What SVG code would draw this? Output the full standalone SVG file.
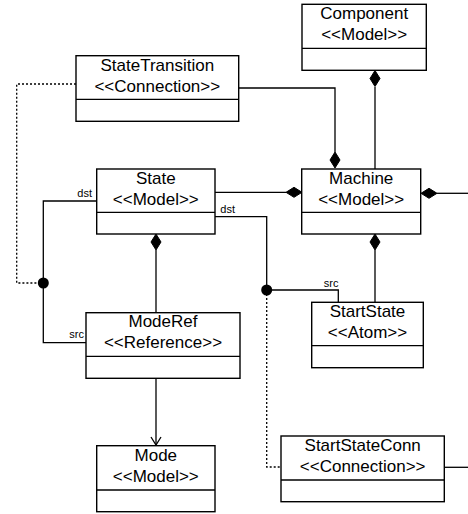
<svg xmlns="http://www.w3.org/2000/svg" width="468" height="514" viewBox="0 0 468 514">
<style>
.box{fill:#fff;stroke:#000;stroke-width:1.4}
.t{font-family:"Liberation Sans",Arial,sans-serif;font-size:17px;text-anchor:middle;fill:#000}
.s{font-family:"Liberation Sans",Arial,sans-serif;font-size:11px;text-anchor:end;fill:#000}
.ln{fill:none;stroke:#000;stroke-width:1.3}
.dot{fill:none;stroke:#000;stroke-width:1.3;stroke-dasharray:2,2}
.dia{fill:#000;stroke:#000;stroke-width:1}
</style>
<rect width="468" height="514" fill="#fff"/>
<g id="connectors">
<polyline class="ln" points="238.7,88 335,88 335,152"/>
<line class="ln" x1="375" y1="87" x2="375" y2="169"/>
<line class="ln" x1="215" y1="192.3" x2="286" y2="192.3"/>
<line class="ln" x1="437" y1="193.3" x2="468" y2="193.3"/>
<line class="ln" x1="156" y1="250" x2="156" y2="312.7"/>
<line class="ln" x1="375" y1="250" x2="375" y2="302.3"/>
<polyline class="ln" points="96.7,201 43.3,201 43.3,342.7 86,342.7"/>
<polyline class="dot" points="76,84 16.7,84 16.7,283 43.3,283"/>
<polyline class="ln" points="215,216.7 266.7,216.7 266.7,290 338.3,290 338.3,302.3"/>
<polyline class="dot" points="266.7,290 266.7,467 281,467"/>
<line class="ln" x1="444.3" y1="467.3" x2="468" y2="467.3"/>
<line class="ln" x1="156" y1="378.3" x2="156" y2="445"/>
<polyline class="ln" points="151,437 156,445 161,437"/>
<polygon class="dia" points="375,70.5 380,78.5 375,86.5 370,78.5"/>
<polygon class="dia" points="335,152 340,160 335,168 330,160"/>
<polygon class="dia" points="286,192.3 294,187.3 302,192.3 294,197.3"/>
<polygon class="dia" points="421,193.3 429,188.3 437,193.3 429,198.3"/>
<polygon class="dia" points="156,234 161,242 156,250 151,242"/>
<polygon class="dia" points="375,234 380,242 375,250 370,242"/>
<circle cx="43.3" cy="283" r="5.5" fill="#000"/>
<circle cx="266.7" cy="290" r="5.5" fill="#000"/>
<text class="s" x="92" y="197.3">dst</text>
<text class="s" x="84" y="338.3">src</text>
<text class="s" x="235" y="212.7">dst</text>
<text class="s" x="338.5" y="287.3">src</text>
</g>
<g id="component">
<rect class="box" x="302" y="4.3" width="124.3" height="66"/>
<line class="ln" x1="302" y1="48.3" x2="426.3" y2="48.3"/>
<text class="t" x="364.2" y="19.3">Component</text>
<text class="t" x="364.2" y="40.3">&lt;&lt;Model&gt;&gt;</text>
</g>
<g id="statetransition">
<rect class="box" x="76" y="55.7" width="162.7" height="65.6"/>
<line class="ln" x1="76" y1="99.3" x2="238.7" y2="99.3"/>
<text class="t" x="157.3" y="70.7">StateTransition</text>
<text class="t" x="157.3" y="91.7">&lt;&lt;Connection&gt;&gt;</text>
</g>
<g id="state">
<rect class="box" x="96.7" y="169" width="118.3" height="65"/>
<line class="ln" x1="96.7" y1="212.3" x2="215" y2="212.3"/>
<text class="t" x="155.8" y="183.5">State</text>
<text class="t" x="155.8" y="204.5">&lt;&lt;Model&gt;&gt;</text>
</g>
<g id="machine">
<rect class="box" x="301.7" y="169" width="119" height="65"/>
<line class="ln" x1="301.7" y1="212.3" x2="420.7" y2="212.3"/>
<text class="t" x="361.2" y="183.5">Machine</text>
<text class="t" x="361.2" y="204.5">&lt;&lt;Model&gt;&gt;</text>
</g>
<g id="startstate">
<rect class="box" x="311.7" y="302.3" width="111.6" height="65.4"/>
<line class="ln" x1="311.7" y1="345.7" x2="423.3" y2="345.7"/>
<text class="t" x="367.5" y="316.8">StartState</text>
<text class="t" x="367.5" y="337.8">&lt;&lt;Atom&gt;&gt;</text>
</g>
<g id="moderef">
<rect class="box" x="86" y="312.7" width="154" height="65.6"/>
<line class="ln" x1="86" y1="356.3" x2="240" y2="356.3"/>
<text class="t" x="163" y="327.2">ModeRef</text>
<text class="t" x="163" y="348.2">&lt;&lt;Reference&gt;&gt;</text>
</g>
<g id="mode">
<rect class="box" x="96.7" y="445.7" width="118.3" height="66"/>
<line class="ln" x1="96.7" y1="490" x2="215" y2="490"/>
<text class="t" x="155.8" y="460.7">Mode</text>
<text class="t" x="155.8" y="481.7">&lt;&lt;Model&gt;&gt;</text>
</g>
<g id="startstateconn">
<rect class="box" x="281" y="436" width="163.3" height="65.7"/>
<line class="ln" x1="281" y1="480" x2="444.3" y2="480"/>
<text class="t" x="362.7" y="450.5">StartStateConn</text>
<text class="t" x="362.7" y="471.5">&lt;&lt;Connection&gt;&gt;</text>
</g>
</svg>
